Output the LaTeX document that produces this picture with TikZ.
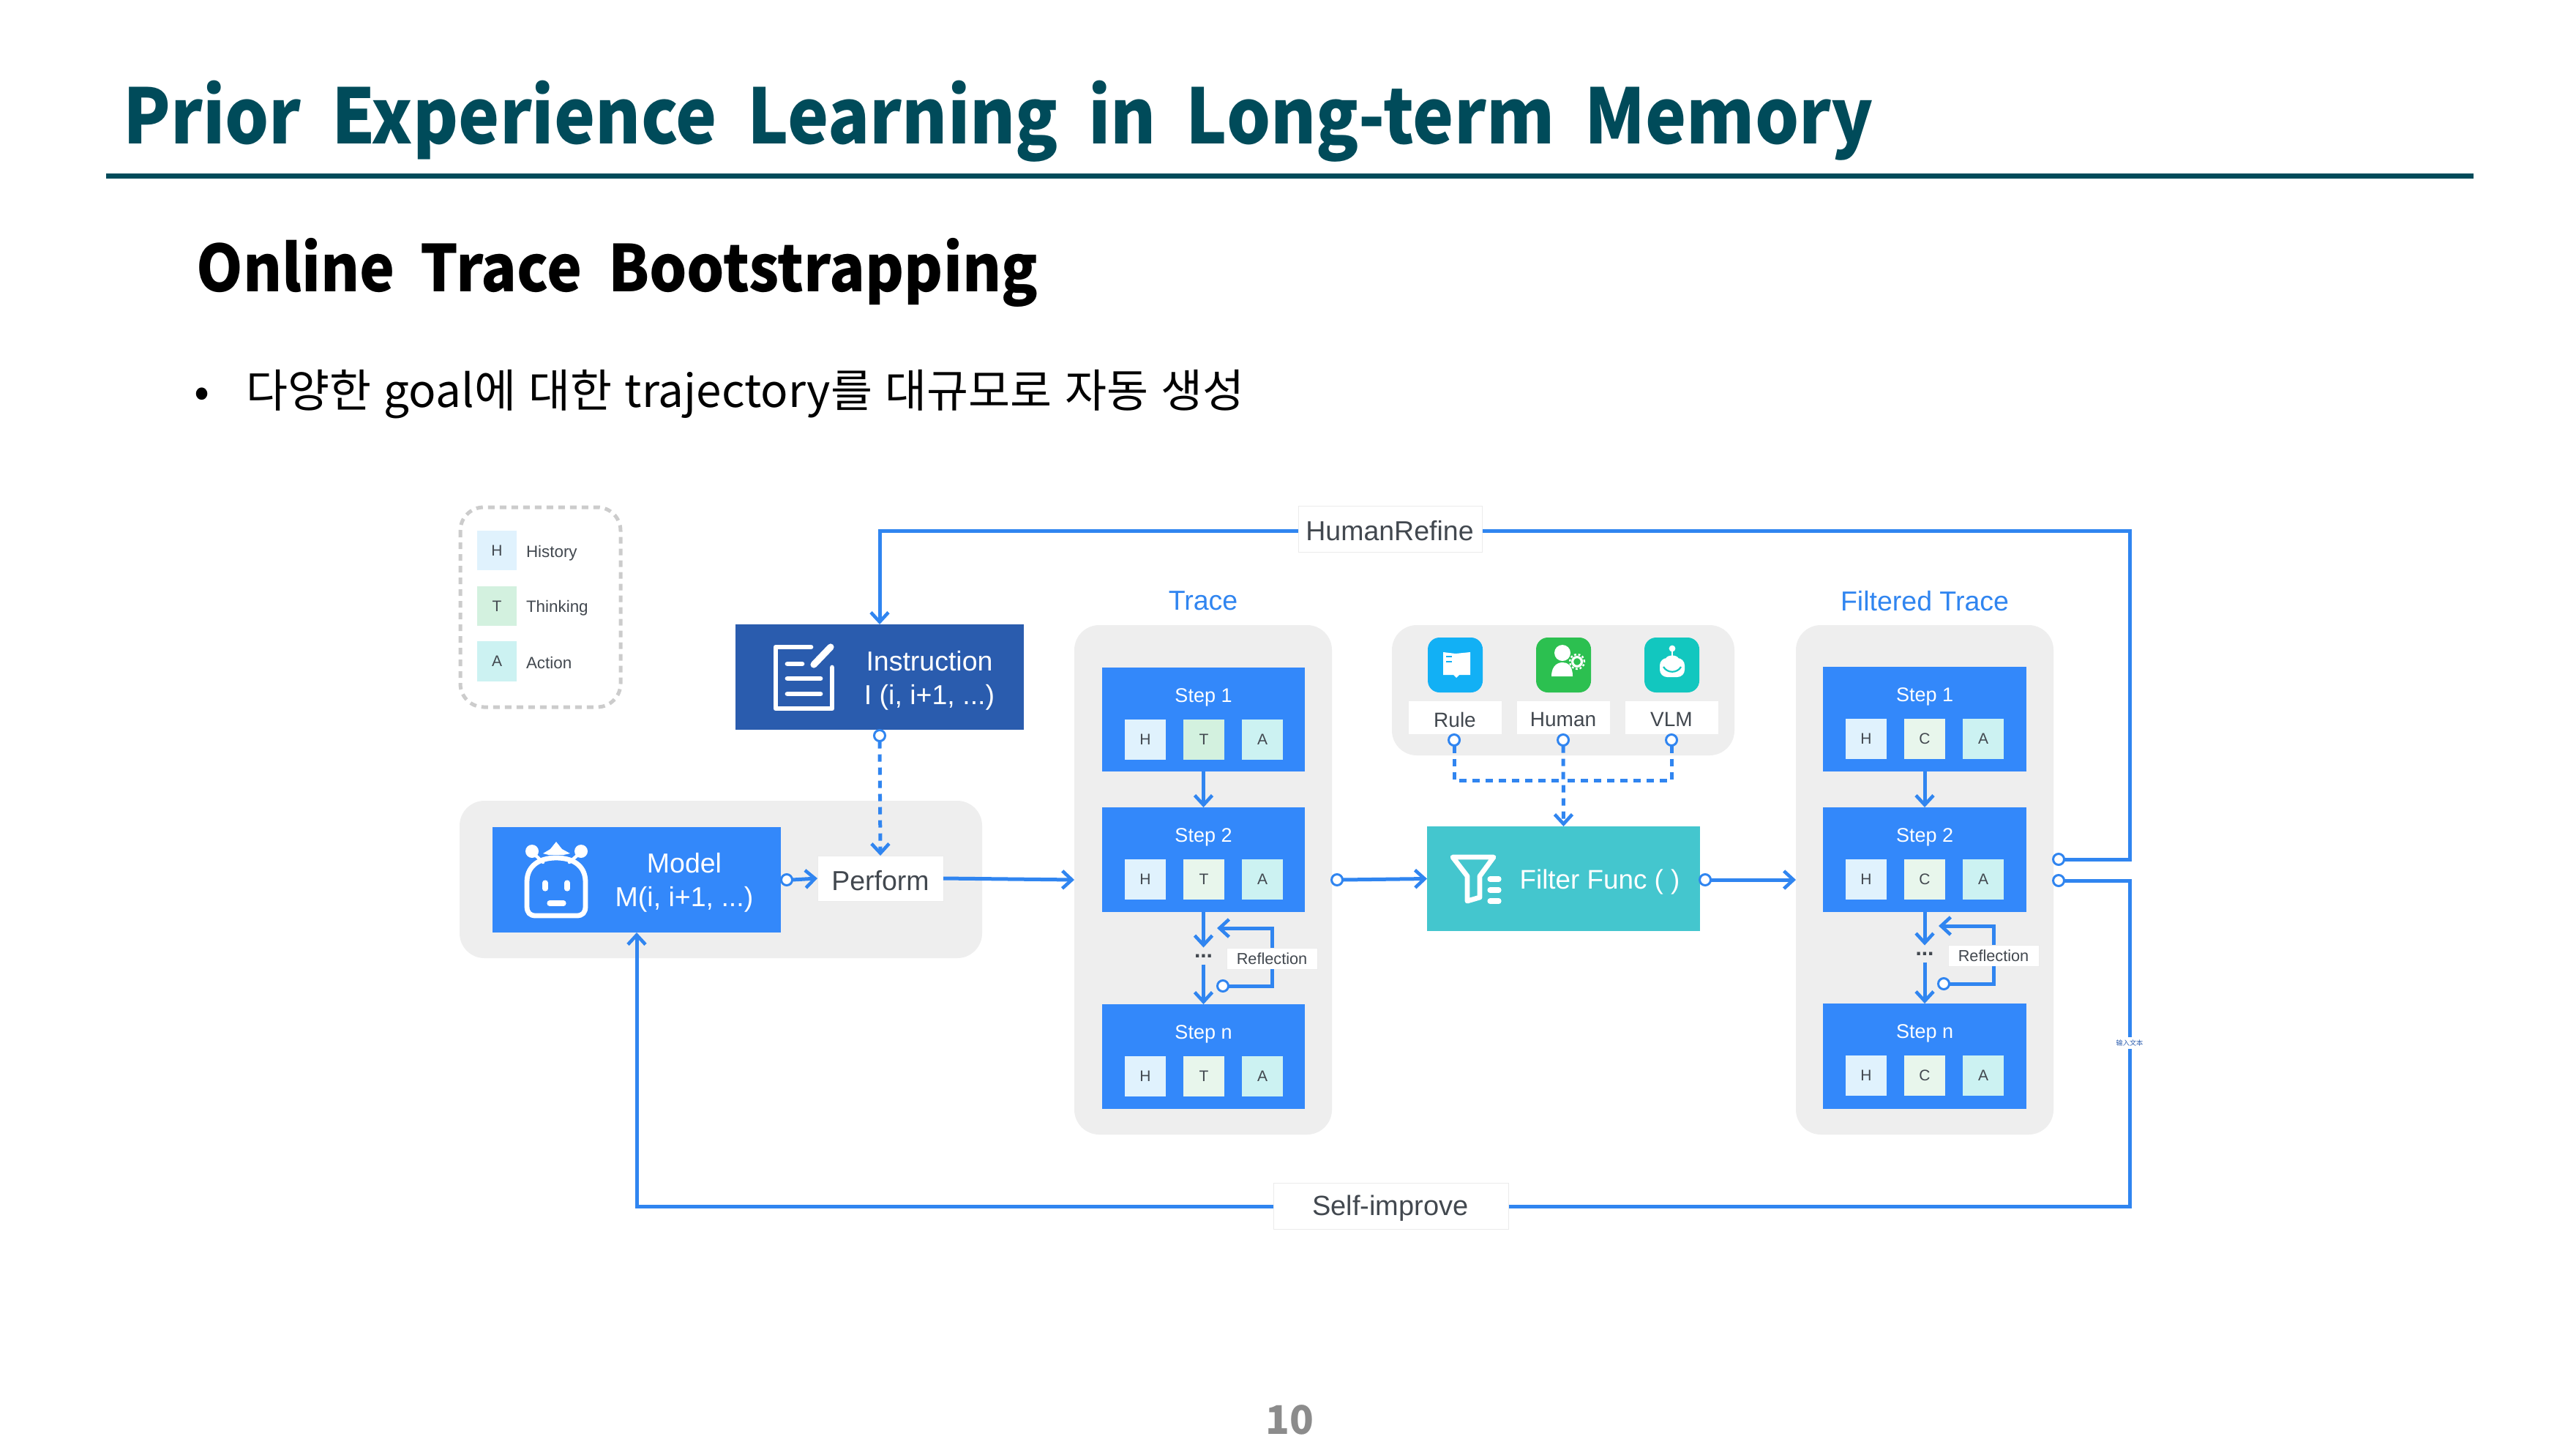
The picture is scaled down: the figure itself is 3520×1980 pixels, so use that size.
\documentclass[tikz,border=0pt]{standalone}
\usepackage{fontspec}
\setmainfont{Liberation Sans}
\newfontfamily\krfont{Noto Sans CJK KR}
\newfontfamily\krwide[WordSpace=1.12]{Noto Sans CJK KR}
\newfontfamily\krhead[FakeStretch=0.91,WordSpace=1.9]{Noto Sans CJK KR}
\newfontfamily\krsub[FakeStretch=0.92,WordSpace=1.9]{Noto Sans CJK KR}
\newfontfamily\scfont{Noto Sans CJK SC}
\usetikzlibrary{arrows.meta}
\definecolor{ttl}{HTML}{004B5A}
\definecolor{blu}{HTML}{3388FA}
\definecolor{lin}{HTML}{3085F0}
\definecolor{dkb}{HTML}{2A5CAE}
\definecolor{bgg}{HTML}{EEEEEE}
\definecolor{txt}{HTML}{42484F}
\definecolor{hc}{HTML}{E0F2FD}
\definecolor{tc}{HTML}{E8F6EC}
\definecolor{tg}{HTML}{D3F1DF}
\definecolor{ac}{HTML}{CCF2F2}
\definecolor{teal2}{HTML}{44C6CE}
\definecolor{irc}{HTML}{12B0F5}
\definecolor{ihc}{HTML}{2CC050}
\definecolor{ivc}{HTML}{12C7BF}
\newcommand{\fs}[1]{\fontsize{#1}{#1}\selectfont}
\tikzset{
  bx/.style={inner sep=0pt,outer sep=0pt,align=center},
  panel/.style={bx,fill=bgg,rounded corners=17pt},
  block/.style={bx,fill=blu,text=white},
  cell/.style={bx,text=txt,font=\fs{10.5}},
  lab/.style={bx,fill=white,text=txt,draw=black!8,line width=.4pt},
  flow/.style={draw=lin,line width=2.5pt,-{Straight Barb[length=6.5pt,width=12pt,line width=2.3pt]}},
  plain/.style={draw=lin,line width=2.5pt},
  dashflow/.style={draw=lin,line width=2.5pt,dash pattern=on 5pt off 4pt},
  port/.style={circle,draw=lin,fill=white,line width=1.5pt,minimum size=7.5pt,inner sep=0pt,outer sep=0pt},
  ico/.style={draw=white,line width=3.4pt,line cap=round,line join=round},
  dots/.style={bx,text=txt,font=\bfseries\fs{15},minimum height=11.5pt},
}
% [style]{name}{x1}{y1}{x2}{y2}{text}
\newcommand{\bx}[7][]{\node[#1,minimum width={((#5)-(#3))*0.5pt},minimum height={((#6)-(#4))*0.5pt}] (#2) at ({((#3)+(#5))/2},{((#4)+(#6))/2}) {#7};}
\newcommand{\stepblk}[8]{% prefix, x1,x2, y1,y2, title, midletter, midcolor
  \bx[block]{#1}{#2}{#4}{#3}{#5}{}
  \node[bx,text=white,font=\fs{13.5}] (#1t) at ({(#2+#3)/2},{#4+41}) {#6};
  \bx[cell,fill=hc]{#1h}{#2+31}{#4+71}{#2+87}{#4+126}{H}
  \bx[cell,fill=#8]{#1m}{#2+111}{#4+71}{#2+167}{#4+126}{#7}
  \bx[cell,fill=ac]{#1a}{#2+191}{#4+71}{#2+247}{#4+126}{A}
}
\begin{document}
\begin{tikzpicture}[x=0.5pt,y=-0.5pt]
\useasboundingbox (0,0) rectangle (3520,1980);
\fill[white] (0,0) rectangle (3520,1980);
% headings
\node[inner sep=0,anchor=base west,text=ttl,font=\krhead\bfseries\fs{52}] (title) at (168,196) {Prior Experience Learning in Long-term Memory};
\draw[ttl,line width=3.5pt] (145,240) -- (3380,240);
\node[inner sep=0,anchor=base west,text=black,font=\krsub\bfseries\fs{44}] (sub) at (268,398) {Online Trace Bootstrapping};
\node[inner sep=0,anchor=base west,text=black,font=\krfont\fs{31}] (bul) at (265,556) {•};
\node[inner sep=0,anchor=base west,text=black,font=\krwide\fs{31}] (bt) at (336,556) {다양한 goal에 대한 trajectory를 대규모로 자동 생성};
\node[inner sep=0,text=black!45,font=\krfont\bfseries\fs{27}] (pg) at (1762,1940) {10};
% legend
\draw[black!20,line width=2.5pt,dash pattern=on 4.5pt off 3.5pt,rounded corners=16pt] (629,693) rectangle (848,966);
\bx[cell,fill=hc]{lh}{652}{725}{706}{779}{H}
\bx[cell,fill=tg]{lt}{652}{801}{706}{855}{T}
\bx[cell,fill=ac]{la}{652}{876}{706}{931}{A}
\node[bx,anchor=west,text=txt,font=\fs{11.2}] (lhl) at (719,756) {History};
\node[bx,anchor=west,text=txt,font=\fs{11.2}] (ltl) at (719,831) {Thinking};
\node[bx,anchor=west,text=txt,font=\fs{11.2}] (lal) at (719,905) {Action};
% panels
\bx[panel]{modelbg}{628}{1094}{1342}{1309}{}
\bx[panel]{tracebg}{1468}{854}{1820}{1550}{}
\bx[panel]{critbg}{1902}{854}{2370}{1032}{}
\bx[panel]{ftracebg}{2454}{854}{2806}{1550}{}
\node[bx,text=lin,font=\fs{18.75}] (trt) at (1644,821) {Trace};
\node[bx,text=lin,font=\fs{18.75}] (ftt) at (2630,821) {Filtered Trace};
% instruction
\bx[bx,fill=dkb]{instr}{1005}{853}{1399}{997}{}
\node[bx,text=white,font=\fontsize{18.75}{23}\selectfont] (instrt) at (1270,930) {Instruction\\I (i, i+1, ...)};
\draw[ico] (1108,884) -- (1060,884) -- (1060,968) -- (1137,968) -- (1137,912);
\draw[ico] (1076,907) -- (1096,907) (1076,927) -- (1121,927) (1076,948) -- (1121,948);
\draw[ico,line width=4.6pt] (1112,908) -- (1135,884);
% model
\bx[block]{model}{673}{1130}{1067}{1274}{}
\node[bx,text=white,font=\fontsize{18.75}{23}\selectfont] (modelt) at (935,1206) {Model\\M(i, i+1, ...)};
\draw[ico] (720,1205) .. controls (720,1182) and (738,1172) .. (760,1172) .. controls (782,1172) and (800,1182) .. (800,1205) -- (800,1238) .. controls (800,1247) and (796,1251) .. (788,1251) -- (732,1251) .. controls (724,1251) and (720,1247) .. (720,1238) -- cycle;
\draw[ico,line width=2.2pt] (729,1166) -- (742,1178) (792,1166) -- (778,1178);
\fill[white] (727,1163) circle (4.5pt) (794,1163) circle (4.5pt);
\fill[white] (742,1166) -- (752,1160) -- (760,1150) -- (768,1160) -- (779,1166) -- (770,1168) -- (750,1168) -- cycle;
\draw[ico,line width=3.6pt] (745,1206) -- (745,1214) (775,1206) -- (775,1214);
\draw[ico,line width=3.6pt] (751,1234) -- (770,1234);
% perform
\bx[lab]{perform}{1117}{1169}{1289}{1231}{}
\node[bx,text=txt,font=\fs{18.75}] (performt) at (1203,1203) {Perform};
% trace
\stepblk{s1}{1506}{1783}{912}{1054}{Step 1}{T}{tg}
\stepblk{s2}{1506}{1783}{1103}{1246}{Step 2}{T}{tc}
\stepblk{sn}{1506}{1783}{1372}{1515}{Step n}{T}{tc}
\node[dots] (dts) at (1644.5,1306) {...};
\bx[lab,font=\fs{10.85}]{refl}{1676}{1295}{1800}{1324}{Reflection}
\node[port] (rc) at (1671,1347) {};
\coordinate (rtip) at (1663,1268);
% criteria
\bx[bx,fill=irc,rounded corners=8pt]{irule}{1951}{871}{2026}{946}{}
\bx[bx,fill=ihc,rounded corners=8pt]{ihuman}{2099}{871}{2174}{946}{}
\bx[bx,fill=ivc,rounded corners=8pt]{ivlm}{2247}{871}{2322}{946}{}
% book
\fill[white] (1972,891) -- (1989,893) -- (2009,891) -- (2009,922) -- (1994,922) -- (1990,926) -- (1986,922) -- (1972,922) -- cycle;
\draw[irc,line width=1.2pt] (1976,897) -- (1984,897) (1976,904) -- (1984,904);
% person
\fill[white] (2135,892) circle (5.5pt);
\fill[white] (2120,924) .. controls (2120,908) and (2130,905) .. (2135,905) .. controls (2141,905) and (2149,908) .. (2149,924) -- cycle;
\draw[white,line width=1.6pt] (2155,904) circle (3.2pt);
\draw[white,line width=1.2pt,dash pattern=on 1.4pt off 1.4pt] (2155,904) circle (5pt);
% robot
\fill[white] (2285,886) circle (2.2pt);
\draw[white,line width=1.3pt] (2285,886) -- (2285,899);
\fill[white,rounded corners=5pt] (2268,925) rectangle (2302,899);
\fill[white] (2276,900) .. controls (2278,894) and (2292,894) .. (2294,900) -- cycle;
\draw[ivc,line width=1.1pt] (2273,911) .. controls (2278,920) and (2292,920) .. (2297,911);
\bx[bx,fill=white]{rule}{1925}{958}{2052}{1003}{}
\bx[bx,fill=white]{human}{2073}{958}{2200}{1003}{}
\bx[bx,fill=white]{vlm}{2221}{958}{2348}{1003}{}
\node[bx,text=txt,font=\fs{14}] (rulet) at (1988,983) {Rule};
\node[bx,text=txt,font=\fs{14}] (humant) at (2136,983) {Human};
\node[bx,text=txt,font=\fs{14}] (vlmt) at (2284,983) {VLM};
% filter
\bx[bx,fill=teal2]{filter}{1950}{1129}{2323}{1272}{}
\node[bx,text=white,font=\fs{18.4}] (filtert) at (2186,1205) {Filter Func ( )};
\draw[ico] (1985,1171) -- (2041,1171) -- (2022,1197) -- (2022,1226) -- (2005,1231) -- (2005,1197) -- cycle;
\draw[ico,line width=3.6pt] (2036,1201) -- (2048,1201) (2036,1216) -- (2048,1216) (2036,1231) -- (2048,1231);
% filtered trace
\stepblk{f1}{2491}{2769}{911}{1054}{Step 1}{C}{tc}
\stepblk{f2}{2491}{2769}{1103}{1246}{Step 2}{C}{tc}
\stepblk{fn}{2491}{2769}{1371}{1515}{Step n}{C}{tc}
\node[dots] (fdts) at (2630,1303) {...};
\bx[lab,font=\fs{10.85}]{frefl}{2662}{1291}{2786}{1320}{Reflection}
\node[port] (frc) at (2656,1344) {};
\coordinate (frtip) at (2649,1265);
% coordinates and ports
\node[port] (pi) at (1202,1005) {};
\node[port] (pm) at (1075,1202) {};
\node[port] (pt) at (1827,1202) {};
\node[port] (pf) at (2330,1202) {};
\node[port] (pr1) at (1987,1011) {};
\node[port] (pr2) at (2136,1011) {};
\node[port] (pr3) at (2284,1011) {};
\node[port] (pu) at (2813,1174) {};
\node[port] (pl) at (2813,1203) {};
\coordinate (jn) at (2136,1066);
\coordinate (tr) at (2910,725);
\coordinate (br) at (2910,1648);
% connectors
\draw[flow] (pu.east) -| (tr) -| (instr.north);
\draw[flow] (pl.east) -| (br) -| (model.south);
\draw[flow,dash pattern=on 5pt off 4pt] (pi.south) -- (perform.north);
\draw[flow] (pm.east) -- (perform.west);
\draw[flow] (perform.east) -- (tracebg.west);
\draw[flow] (pt.east) -- (filter.west);
\draw[flow] (pf.east) -- (ftracebg.west);
\draw[dashflow] (pr1.south) |- (jn);
\draw[dashflow] (pr3.south) |- (jn);
\draw[flow,dash pattern=on 5pt off 4pt] (pr2.south) -- (filter.north);
\draw[flow] (s1.south) -- (s2.north);
\draw[flow] (s2.south) -- (dts.north);
\draw[flow] (dts.south) -- (sn.north);
\draw[plain] (rc.east) -| (refl.south);
\draw[flow] (refl.north) |- (rtip);
\draw[flow] (f1.south) -- (f2.north);
\draw[flow] (f2.south) -- (fdts.north);
\draw[flow] (fdts.south) -- (fn.north);
\draw[plain] (frc.east) -| (frefl.south);
\draw[flow] (frefl.north) |- (frtip);
% connector labels
\bx[lab]{hr}{1774}{691}{2025}{754}{}
\node[bx,text=txt,font=\fs{18.75}] (hrt) at (1899,725) {HumanRefine};
\bx[lab]{si}{1740}{1616}{2061}{1679}{}
\node[bx,text=txt,font=\fs{19}] (sit) at (1900,1651) {Self-improve};
\bx[bx,fill=white,text=dkb,font=\scfont\fs{4.6}]{inp}{2886}{1417}{2934}{1433}{输入文本}
\end{tikzpicture}
\end{document}
